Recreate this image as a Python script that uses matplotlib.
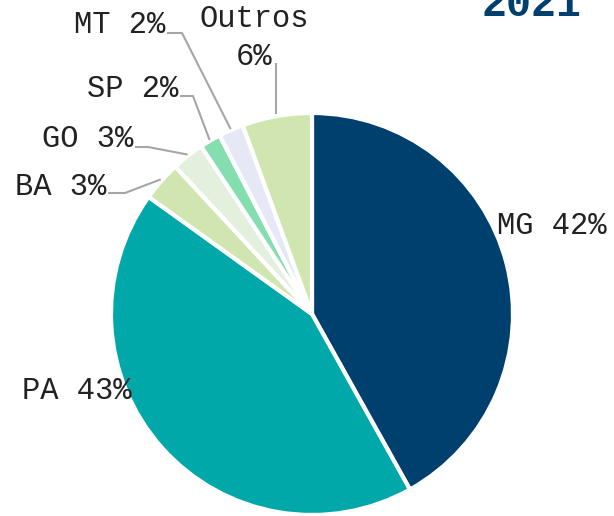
import numpy as np
import matplotlib
matplotlib.use("Agg")
import matplotlib.pyplot as plt

# ---- data ----
categories = ["MG", "PA", "BA", "GO", "SP", "MT", "Outros"]
values = [41.9, 43.0, 3.2, 2.6, 1.7, 2.0, 5.6]
colors = ["#00406F", "#00A8AA", "#D1E5B1", "#E3F0DE", "#84DEB0", "#E6E9F5", "#D1E5B1"]
title = "2021"

W, H = 614, 516
fig = plt.figure(figsize=(W / 100, H / 100), dpi=100)
ax = fig.add_axes([0, 0, 1, 1])

cx, cy, R = 312, H - 314, 201
wedges, _ = ax.pie(values, colors=colors, startangle=90, counterclock=False,
                   center=(cx, cy), radius=R,
                   wedgeprops=dict(edgecolor="white", linewidth=3))
ax.set_xlim(0, W)
ax.set_ylim(0, H)
ax.set_aspect("equal")
ax.axis("off")

font = "Liberation Mono"
fs = 22
labels = [f"{c} {round(v):.0f}%" for c, v in zip(categories, values)]
labels[-1] = f"{categories[-1]}\n{round(values[-1]):.0f}%"

# label layout: (x, baseline y in px from top, ha, elbow point or None)
layout = {
    "MG": (497, 234, "left", None),
    "PA": (131, 399, "right", None),
    "BA": (106, 195, "right", (125, 193)),
    "GO": (133, 147, "right", (148, 147)),
    "SP": (178, 97, "right", (193, 96)),
    "MT": (165, 33, "right", (182, 33)),
}
lc = "#A6A6A6"
for i, (cat, w) in enumerate(zip(categories, wedges)):
    mid = np.deg2rad((w.theta1 + w.theta2) / 2)
    ax_ = cx + 1.01 * R * np.cos(mid)
    ay_ = cy + 1.01 * R * np.sin(mid)
    if cat == "Outros":
        ax.text(254, H - 27, categories[i], family=font, fontsize=fs, ha="center",
                va="baseline", color="#222222")
        ax.text(254, H - 65, f"{round(values[i]):.0f}%", family=font, fontsize=fs,
                ha="center", va="baseline", color="#222222")
        ax.plot([ax_, ax_], [ay_, H - 63], color=lc, lw=1.5, solid_capstyle="butt")
        continue
    x, yb, ha, elbow = layout[cat]
    ax.text(x, H - yb, labels[i], family=font, fontsize=fs, ha=ha, va="baseline",
            color="#222222")
    if elbow is not None:
        ex, ey = elbow
        ax.plot([x + 3, ex, ax_], [H - ey, H - ey, ay_], color=lc, lw=1.5)

ax.text(532, H - 16, title, family=font, fontsize=30, fontweight="bold",
        ha="center", va="baseline", color="#00406F")

fig.savefig("out.png", dpi=100)
